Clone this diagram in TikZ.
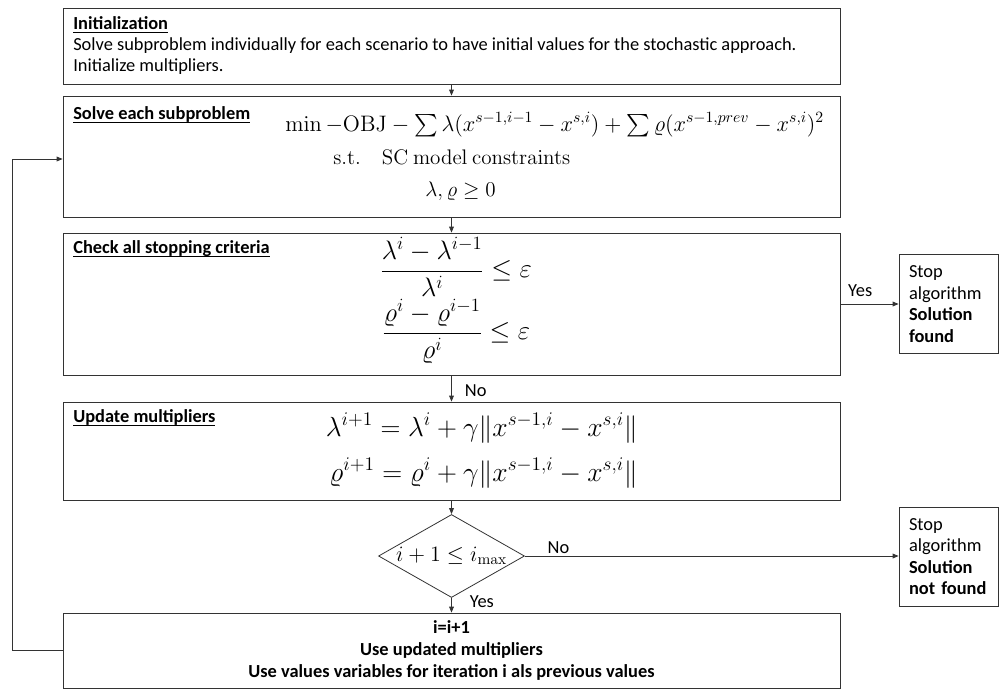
\RequirePackage{fix-cm}
\documentclass[tikz,border=0pt]{standalone}
\usepackage{amsmath, amssymb}
\usepackage[no-math]{fontspec}
\setmainfont{Carlito}
\usepackage{tikz}
\usetikzlibrary{arrows.meta, positioning, shapes.geometric}
\definecolor{LineGray}{HTML}{333333}
\newcommand{\bodyfont}{\fontsize{13.8}{16.2}\selectfont}
\newcommand{\ulbf}[1]{\underline{\smash{\textbf{#1}}}}

\begin{document}
\begin{tikzpicture}[x=0.75pt, y=-0.75pt,
  box/.style={draw=LineGray, line width=0.6pt, inner sep=0pt},
  flow/.style={-{Triangle[length=4.5pt, width=3.6pt]}, draw=LineGray, line width=0.6pt},
  txt/.style={anchor=base west, inner sep=0pt, font=\bodyfont},
  lbl/.style={inner sep=0pt, font=\bodyfont},
  eqsmall/.style={anchor=base west, inner sep=0pt, font=\fontsize{15.8}{18}\selectfont},
  eqlarge/.style={inner sep=0pt, font=\fontsize{20}{24}\selectfont}]
  \useasboundingbox (0,0) rectangle (999,690);

  % main column
  \node[box, minimum width=582.75pt, minimum height=57pt] (init) at (451.5,46) {};
  \node[box, minimum width=582.75pt, minimum height=90.75pt] (solve) at (451.5,156.5) {};
  \node[box, minimum width=582.75pt, minimum height=106.5pt] (crit) at (451.5,304) {};
  \node[box, minimum width=582.75pt, minimum height=73.5pt] (update) at (451.5,451) {};
  \node[box, diamond, minimum width=109.5pt, minimum height=62.25pt,
        font=\fontsize{16.5}{19}\selectfont] (iter) at (451.5,556) {\makebox[0pt]{$i+1\leq i_{\max}$}};
  \node[box, minimum width=582.75pt, minimum height=56.25pt, align=center,
        font=\bodyfont\bfseries] (next) at (451.5,650.5)
        {i=i+1\\Use updated multipliers\\Use values variables for iteration i als previous values};

  % stop boxes
  \node[box, minimum width=74.25pt, minimum height=74.25pt, text width=59.25pt, align=left,
        font=\bodyfont] (found) at (948.5,304) {Stop\\algorithm\\\textbf{Solution}\\\textbf{found}};
  \node[box, minimum width=74.25pt, minimum height=74.25pt, text width=59.25pt, align=left,
        font=\bodyfont] (notfound) at (948.5,556.5) {Stop\\algorithm\\\textbf{Solution}\\\textbf{not found}};

  % initialization
  \node[txt] (inittitle) at (73,29.5) {\ulbf{Initialization}};
  \node[txt] (initline) at (73,50) {Solve subproblem individually for each scenario to have initial values for the stochastic approach.};
  \node[txt] (initmult) at (73,71) {Initialize multipliers.};

  % subproblem
  \node[txt] (solvetitle) at (73,119.5) {\ulbf{Solve each subproblem}};
  \node[eqsmall, font=\fontsize{16.8}{19}\selectfont] (objline) at (285,131) {$\min -\mathrm{OBJ} - \sum \lambda(x^{s-1,i-1}-x^{s,i}) + \sum \varrho(x^{s-1,prev}-x^{s,i})^2$};
  \node[eqsmall] (stline) at (333,164) {$\mathrm{s.t.}\quad \mathrm{SC\ model\ constraints}$};
  \node[eqsmall] (posline) at (425,196) {$\lambda,\varrho\geq 0$};

  % stopping criteria
  \node[txt] (crittitle) at (73,253.5) {\ulbf{Check all stopping criteria}};
  \node[eqlarge, anchor=base] (critlam) at (456,277.7) {$\dfrac{\lambda^i-\lambda^{i-1}}{\lambda^i}\leq\varepsilon$};
  \node[eqlarge, anchor=base] (critrho) at (456,339.7) {$\dfrac{\varrho^i-\varrho^{i-1}}{\varrho^i}\leq\varepsilon$};

  % multiplier update
  \node[txt] (updtitle) at (73,422.7) {\ulbf{Update multipliers}};
  \node[eqlarge, anchor=base east, font=\fontsize{20.7}{25}\selectfont] (updlam) at (638,436) {$\lambda^{i+1}=\lambda^i+\gamma\|x^{s-1,i}-x^{s,i}\|$};
  \node[eqlarge, anchor=base east, font=\fontsize{20.7}{25}\selectfont] (updrho) at (638,481) {$\varrho^{i+1}=\varrho^i+\gamma\|x^{s-1,i}-x^{s,i}\|$};

  % connectors
  \draw[flow] (init) -- (solve);
  \draw[flow] (solve) -- (crit);
  \draw[flow] (crit) -- node[lbl, anchor=base west, pos=0.81, xshift=9.75pt] {No} (update);
  \draw[flow] (update) -- (iter);
  \draw[flow] (iter) -- node[lbl, anchor=base west, pos=0.63, xshift=13.5pt] {Yes} (next);
  \draw[flow] (crit.east) -- node[lbl, above=5.6pt, pos=0.34] {Yes} (found.west);
  \draw[flow] (iter.east) -- node[lbl, above=1.5pt, pos=0.09] {No} (iter.east -| notfound.west);

  % loop back
  \coordinate (loopturn) at (12,159);
  \draw[flow] (next.west) -| (loopturn) -- (loopturn -| solve.west);
\end{tikzpicture}
\end{document}
